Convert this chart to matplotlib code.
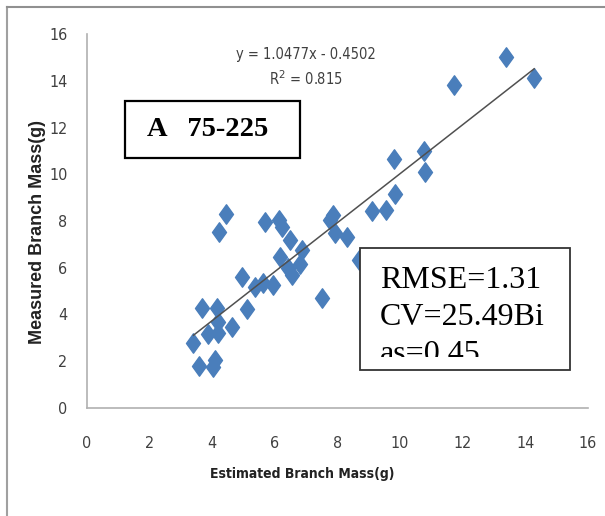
import matplotlib
matplotlib.use("Agg")
import matplotlib.pyplot as plt
from matplotlib import font_manager
from matplotlib.path import Path
from matplotlib.patches import Rectangle
from matplotlib.lines import Line2D

# estimated vs measured branch mass (g)
estimated = [4.43, 4.23, 5.69, 6.14, 6.22, 6.49, 6.86, 6.17, 6.43, 6.54,
             6.81, 4.96, 5.37, 5.63, 5.95, 5.10, 3.66, 4.16, 4.19, 4.62,
             3.88, 4.19, 3.40, 3.59, 4.02, 4.09, 9.79, 10.77, 10.80, 9.84,
             9.10, 9.55, 7.87, 7.76, 7.92, 8.30, 7.50, 8.70, 13.39, 14.28,
             11.73]
measured = [8.32, 7.53, 7.94, 8.06, 7.75, 7.18, 6.75, 6.47, 5.97, 5.68,
            6.18, 5.59, 5.18, 5.33, 5.26, 4.23, 4.26, 4.26, 3.69, 3.47,
            3.16, 3.19, 2.79, 1.79, 1.76, 2.05, 10.67, 11.00, 10.10, 9.15,
            8.43, 8.46, 8.25, 8.03, 7.47, 7.32, 4.69, 6.32, 15.01, 14.13,
            13.80]

slope = 1.0477
intercept = -0.4502
r2 = 0.815
panel_label = "A   75-225"
stats_lines = ["RMSE=1.31", "CV=25.49Bi", "as=0.45"]

ticks = [0, 2, 4, 6, 8, 10, 12, 14, 16]

W, H = 605, 516

# condensed sans for the axis text if the condensed face is installed
condensed = any(f.name == "DejaVu Sans" and f.stretch in ("condensed", 300, "semi-condensed")
                for f in font_manager.fontManager.ttflist)
sans = dict(family="DejaVu Sans", fontstretch="condensed") if condensed else dict(family="Liberation Sans")


def fx(px):
    return px / W


def fy(py):
    return 1 - py / H


fig = plt.figure(figsize=(W / 100, H / 100), dpi=100)
ax = fig.add_axes([fx(87), fy(408), fx(588) - fx(87), fy(34) - fy(408)])

# tall diamond like the spreadsheet marker
diamond = Path([(0, 1), (0.72, 0), (0, -1), (-0.72, 0), (0, 1)],
               [Path.MOVETO, Path.LINETO, Path.LINETO, Path.LINETO, Path.CLOSEPOLY])
ax.plot(estimated, measured, linestyle="none", marker=diamond, ms=14,
        color="#4a7ebb", mec="#4a7ebb", zorder=2)

# linear trendline
x0, x1 = min(estimated), max(estimated)
ax.plot([x0, x1], [slope * x0 + intercept, slope * x1 + intercept],
        color="#505050", lw=1.1, zorder=3)

ax.set_xlim(0, 16)
ax.set_ylim(0, 16)
ax.set_xticks(ticks)
ax.set_yticks(ticks)
for side in ["top", "right"]:
    ax.spines[side].set_visible(False)
for side in ["left", "bottom"]:
    ax.spines[side].set_color("#b0b0b0")
    ax.spines[side].set_linewidth(1.2)
ax.tick_params(length=0, colors="#404040", labelsize=11.5)
ax.tick_params(axis="x", pad=20)
ax.tick_params(axis="y", pad=14)
for lab in ax.get_xticklabels() + ax.get_yticklabels():
    lab.set(**sans)

ax.set_xlabel("Estimated Branch Mass(g)", fontweight="bold",
              fontsize=10, color="#222222", **sans)
ax.xaxis.set_label_coords(0.5, fy(467), transform=fig.transFigure)
ax.set_ylabel("Measured Branch Mass(g)", family="Liberation Sans", fontweight="bold",
              fontsize=13, color="#222222")
ax.yaxis.set_label_coords(fx(46), fy(232), transform=fig.transFigure)

# trendline equation
fig.text(fx(306), fy(55), f"y = {slope}x - {abs(intercept)}",
         fontsize=10.5, color="#404040", ha="center", va="center", **sans)
fig.text(fx(306), fy(79), f"R$^2$ = {r2}",
         fontsize=10.5, color="#404040", ha="center", va="center", **sans)

# panel label box
ax.add_patch(Rectangle((fx(125), fy(158)), fx(300) - fx(125), fy(101) - fy(158),
                       transform=fig.transFigure, facecolor="white",
                       edgecolor="black", lw=1.6, zorder=5, clip_on=False))
ax.text(fx(147), fy(130), panel_label, transform=fig.transFigure,
        family="Liberation Serif", fontweight="bold", fontsize=20.5,
        ha="left", va="center", zorder=6)

# statistics box, last line cut off at the bottom
ax.add_patch(Rectangle((fx(360), fy(370)), fx(570) - fx(360), fy(248) - fy(370),
                       transform=fig.transFigure, facecolor="white",
                       edgecolor="#333333", lw=1.3, zorder=5, clip_on=False))
clip = Rectangle((fx(360), fy(357)), fx(570) - fx(360), fy(248) - fy(357),
                 transform=fig.transFigure, facecolor="none", edgecolor="none")
baselines = [288, 325, 362]
for line, base in zip(stats_lines, baselines):
    t = ax.text(fx(380), fy(base), line, transform=fig.transFigure,
                family="Liberation Serif", fontsize=23, ha="left",
                va="baseline", zorder=6, clip_on=True)
    t.set_clip_path(clip)

# outer frame of the chart area
fig.add_artist(Line2D([fx(7), fx(7)], [fy(7), 0], color="#a0a0a0", lw=1.5))
fig.add_artist(Line2D([fx(7), 1], [fy(7), fy(7)], color="#909090", lw=1.5))

fig.savefig("out.png", dpi=100)
